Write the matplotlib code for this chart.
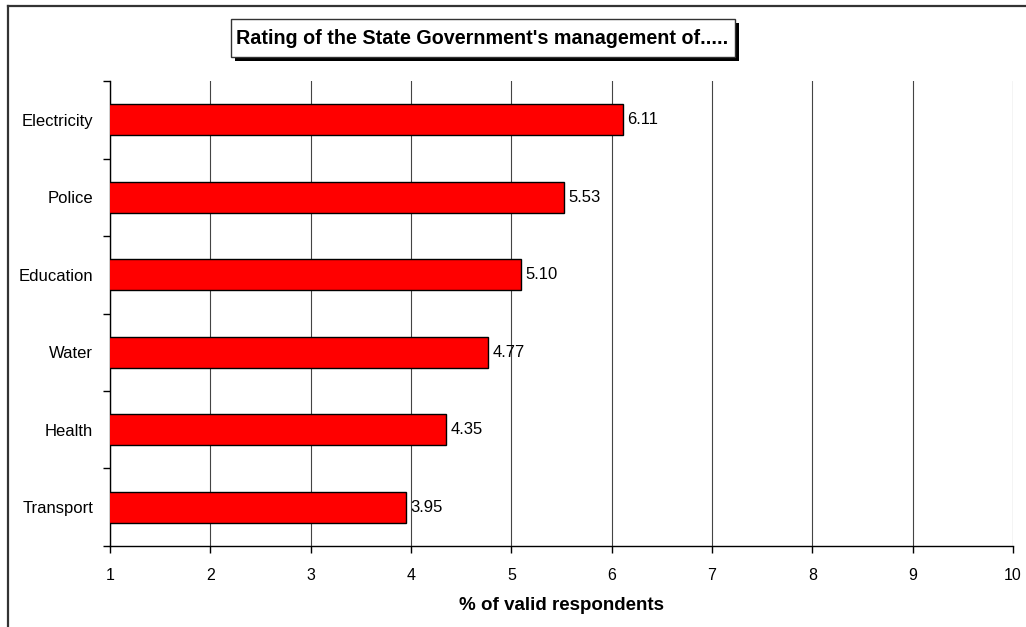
import matplotlib.pyplot as plt
from matplotlib.lines import Line2D
from matplotlib.patches import Rectangle

plt.rcParams['font.family'] = ['Liberation Sans', 'DejaVu Sans']

categories = ["Electricity", "Police", "Education", "Water", "Health", "Transport"]
ratings = [6.11, 5.53, 5.10, 4.77, 4.35, 3.95]
x_ticks = [1, 2, 3, 4, 5, 6, 7, 8, 9, 10]

W, H = 1026, 627
fig = plt.figure(figsize=(W / 100, H / 100), dpi=100)
ax = fig.add_axes([0.1072, 0.1292, 0.8801, 0.7416])

ypos = list(range(len(categories)))
ax.barh(ypos, ratings, height=0.4, color="#ff0000", edgecolor="black", linewidth=1, zorder=3)
for y, v in zip(ypos, ratings):
    ax.annotate(f"{v:.2f}", (v, y), xytext=(3, 0), textcoords="offset points",
                va="center", ha="left", fontsize=12, zorder=4)

ax.set_xlim(1, 10)
ax.set_ylim(len(categories) - 0.5, -0.5)
ax.set_xticks(x_ticks)
ax.set_xticklabels([str(t) for t in x_ticks], fontsize=11.5)
ax.tick_params(axis="x", direction="out", length=5, width=1, pad=11)

# category labels sit between the tick marks
ax.set_yticks([i - 0.5 for i in range(len(categories) + 1)])
ax.set_yticklabels([])
ax.set_yticks(ypos, minor=True)
ax.set_yticklabels(categories, minor=True, fontsize=12)
ax.tick_params(axis="y", which="major", direction="out", length=5, width=1)
ax.tick_params(axis="y", which="minor", length=0, pad=12)

ax.grid(axis="x", color="#444444", linewidth=0.8, zorder=0)
ax.spines["top"].set_visible(False)
ax.spines["right"].set_visible(False)
ax.spines["left"].set_linewidth(1)
ax.spines["bottom"].set_linewidth(1)

ax.set_xlabel("% of valid respondents", fontsize=13.5, fontweight="bold", labelpad=10)

# title box with drop shadow, sized from the rendered text
title = "Rating of the State Government's management of....."
ttl = fig.text(482 / W, 1 - 38 / H, title, ha="center", va="center",
               fontsize=14.2, fontweight="bold", zorder=5)
fig.canvas.draw()
bb = ttl.get_window_extent()
bx0, bx1 = bb.x0 - 5, bb.x1 + 7
by0, by1 = (bb.y0 + bb.y1) / 2 - 19, (bb.y0 + bb.y1) / 2 + 19
fig.add_artist(Rectangle((bx0 + 4, by0 - 4), bx1 - bx0, by1 - by0, transform=None,
                         facecolor="black", edgecolor="none", zorder=3))
fig.add_artist(Rectangle((bx0, by0), bx1 - bx0, by1 - by0, transform=None,
                         facecolor="white", edgecolor="#333333", linewidth=1, zorder=4))

# chart frame (only top and left edges fall inside the image)
fx, fy = 7.5 / W, 1 - 5.5 / H
fig.add_artist(Line2D([fx, 1.0], [fy, fy], transform=fig.transFigure, color="#333333", linewidth=1.6))
fig.add_artist(Line2D([fx, fx], [0.0, fy], transform=fig.transFigure, color="#333333", linewidth=1.6))

fig.savefig("out.png", dpi=100, facecolor="white")
